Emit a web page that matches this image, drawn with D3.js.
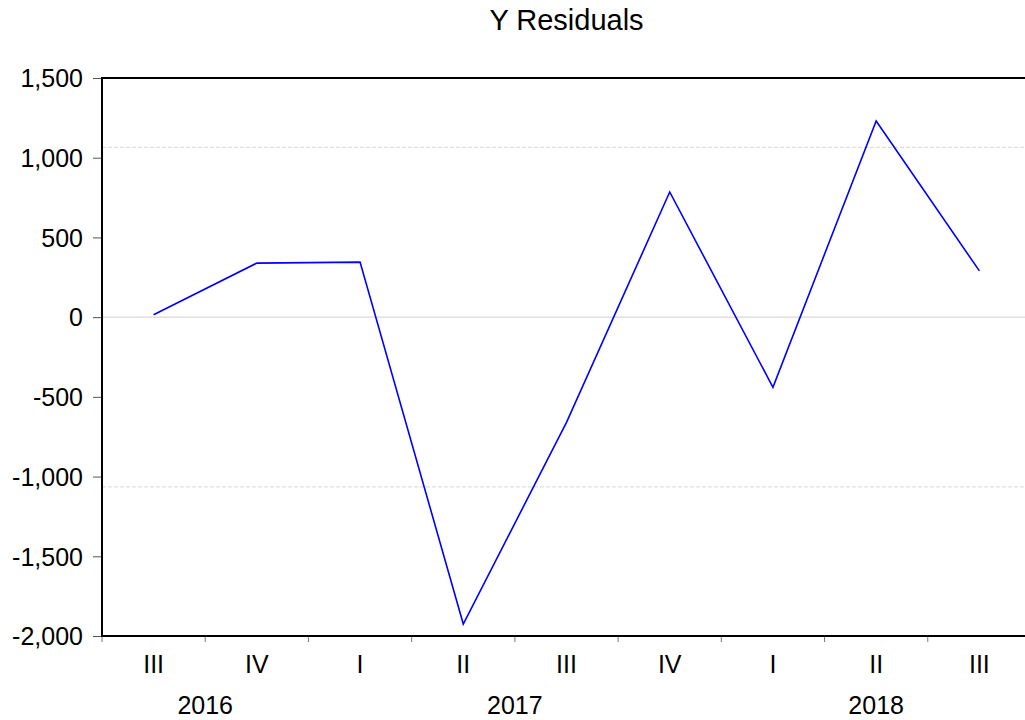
<!DOCTYPE html>
<html>
<head>
<meta charset="utf-8">
<script src="https://cdn.jsdelivr.net/npm/d3@7"></script>
<style>
  body { margin: 0; background: #fff; }
  text { font-family: "Liberation Sans", Arial, sans-serif; fill: #000; }
</style>
</head>
<body>
<div id="chart"></div>
<script>
// quarters and residual values
const quarters = ["III", "IV", "I", "II", "III", "IV", "I", "II", "III"];
const years = [
  { label: "2016", from: 0, to: 1 },
  { label: "2017", from: 2, to: 5 },
  { label: "2018", from: 6, to: 8 },
];
const residuals = [15, 339, 345, -1925, -660, 785, -440, 1230, 290];
const yTicks = [-2000, -1500, -1000, -500, 0, 500, 1000, 1500];
const bandLines = [-1065, 1065];

const width = 1025, height = 720;
const margin = { top: 78, right: -6, bottom: 84, left: 102 };

const svg = d3.select("#chart")
  .append("svg")
  .attr("width", width)
  .attr("height", height);

const x = d3.scaleBand()
  .domain(d3.range(quarters.length))
  .range([margin.left, width - margin.right]);

const y = d3.scaleLinear()
  .domain([-2000, 1500])
  .range([height - margin.bottom, margin.top]);

// EViews style labels use a plain hyphen for negatives
const fmt = (d) => d3.format(",")(d).replace("\u2212", "-");

// title
svg.append("text")
  .attr("x", (margin.left + width - margin.right) / 2)
  .attr("y", 30)
  .attr("text-anchor", "middle")
  .style("font-size", "29px")
  .text("Y Residuals");

// zero line and dashed bands
svg.append("line")
  .attr("x1", margin.left).attr("x2", width - margin.right)
  .attr("y1", y(0)).attr("y2", y(0))
  .attr("stroke", "#cfcfcf").attr("stroke-width", 1);

svg.selectAll(".band")
  .data(bandLines)
  .enter()
  .append("line")
  .attr("x1", margin.left).attr("x2", width - margin.right)
  .attr("y1", (d) => y(d)).attr("y2", (d) => y(d))
  .attr("stroke", "#d6d6d6").attr("stroke-width", 1)
  .attr("stroke-dasharray", "4,2");

// y axis
const yAxis = svg.append("g")
  .attr("transform", `translate(${margin.left},0)`)
  .call(d3.axisLeft(y).tickValues(yTicks).tickSize(9).tickPadding(10)
    .tickFormat(fmt));
yAxis.select(".domain").remove();
yAxis.selectAll(".tick line").attr("stroke", "#555");
yAxis.selectAll(".tick text").style("font-size", "25px").attr("dy", "0.35em");

// x axis ticks between quarters
svg.selectAll(".xtick")
  .data(d3.range(quarters.length + 1))
  .enter()
  .append("line")
  .attr("x1", (i) => margin.left + i * x.step())
  .attr("x2", (i) => margin.left + i * x.step())
  .attr("y1", height - margin.bottom)
  .attr("y2", height - margin.bottom + 6)
  .attr("stroke", "#777");

svg.selectAll(".qlabel")
  .data(quarters)
  .enter()
  .append("text")
  .attr("x", (d, i) => x(i) + x.bandwidth() / 2)
  .attr("y", height - margin.bottom + 37)
  .attr("text-anchor", "middle")
  .style("font-size", "25px")
  .text((d) => d);

svg.selectAll(".ylabel")
  .data(years)
  .enter()
  .append("text")
  .attr("x", (d) => (x(d.from) + x(d.to) + x.bandwidth()) / 2)
  .attr("y", height - margin.bottom + 78)
  .attr("text-anchor", "middle")
  .style("font-size", "25px")
  .text((d) => d.label);

// frame
svg.append("rect")
  .attr("x", margin.left)
  .attr("y", margin.top)
  .attr("width", width - margin.right - margin.left)
  .attr("height", height - margin.bottom - margin.top)
  .attr("fill", "none")
  .attr("stroke", "#000")
  .attr("stroke-width", 2);

// residual line
const line = d3.line()
  .x((d, i) => x(i) + x.bandwidth() / 2)
  .y((d) => y(d));

svg.append("path")
  .datum(residuals)
  .attr("d", line)
  .attr("fill", "none")
  .attr("stroke", "#0000ff")
  .attr("stroke-width", 1.6);
</script>
</body>
</html>
